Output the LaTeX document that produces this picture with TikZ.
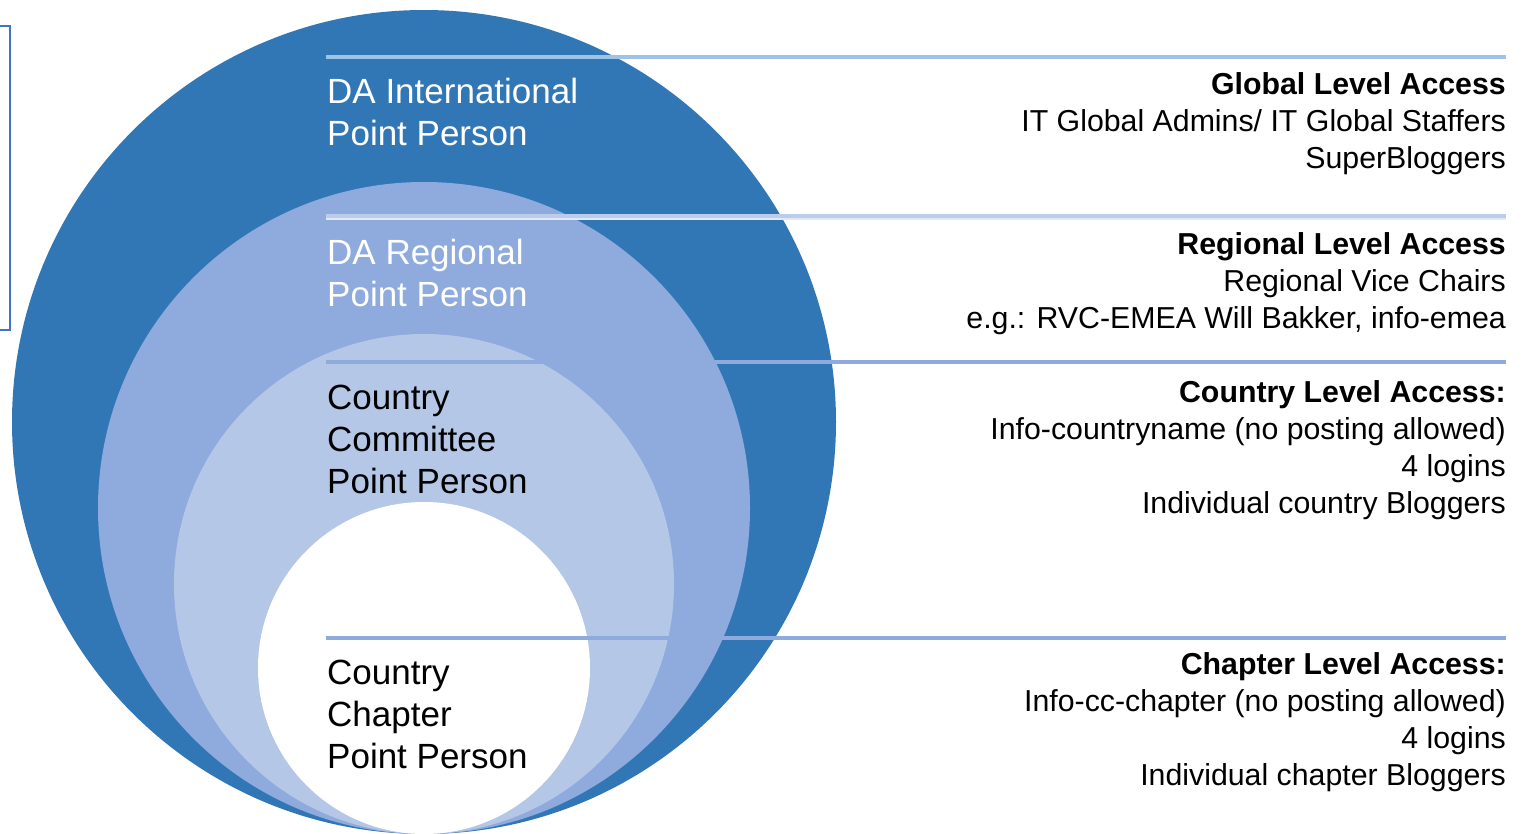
\documentclass[tikz,border=0pt]{standalone}
\usepackage{fontspec}
\setmainfont{Liberation Sans}
\definecolor{cOuter}{HTML}{3277B5}
\definecolor{cMid}{HTML}{8FAADC}
\definecolor{cInner}{HTML}{B4C7E7}
\definecolor{cLineA}{HTML}{9DC3E6}
\definecolor{cLineB}{HTML}{BCCDEB}
\definecolor{cLineBl}{HTML}{E2E9F6}
\definecolor{cBox}{HTML}{4472C4}
\tikzset{
  ring/.style={draw=none},
  leftlbl/.style={anchor=base west, inner sep=0pt, align=left, font=\fontsize{35}{42}\selectfont},
  rightlbl/.style={anchor=base east, inner sep=0pt, align=right, font=\fontsize{30.3}{37}\selectfont},
  sepline/.style={line width=3.5pt}
}
\begin{document}
\begin{tikzpicture}[x=1pt,y=-1pt]
\useasboundingbox (0,0) rectangle (1524,833);
% left thin box
\draw[cBox, line width=2pt] (-5,26) rectangle (9.5,330);
% rings
\fill[cOuter] (424,422) circle (412);
\fill[cMid] (424,508) circle (326);
\fill[cInner] (424,584) circle (250);
\fill[white] (424,668) circle (166);
% separator lines
\coordinate (l1a) at (326,57); \coordinate (l1b) at (1506,57);
\coordinate (l2a) at (326,217); \coordinate (l2b) at (1506,217);
\coordinate (l3a) at (326,362); \coordinate (l3b) at (1506,362);
\coordinate (l4a) at (326,638); \coordinate (l4b) at (1506,638);
\draw[sepline, cLineA] (l1a) -- (l1b);
\draw[line width=5.5pt, cLineB] (l2a) -- (l2b);
\draw[line width=2pt, cLineBl] ([yshift=-1.5pt]l2a) -- ([yshift=-1.5pt]l2b);
\draw[sepline, cMid] (l3a) -- (l3b);
\draw[sepline, cMid] (l4a) -- (l4b);
% left labels (anchored at baseline of last line)
\node[leftlbl, text=white] (intl) at (327,145) {DA International\\Point Person};
\node[leftlbl, text=white] (reg) at (327,306) {DA Regional\\Point Person};
\node[leftlbl, text=black] (ctry) at (327,493) {Country\\Committee\\Point Person};
\node[leftlbl, text=black] (chap) at (327,768) {Country\\Chapter\\Point Person};
% right labels
\node[rightlbl] (glob) at (1506,168) {\textbf{Global Level Access}\\IT Global Admins/ IT Global Staffers\\SuperBloggers};
\node[rightlbl] (regacc) at (1506,328) {\textbf{Regional Level Access}\\Regional Vice Chairs\\e.g.: RVC-EMEA Will Bakker, info-emea};
\node[rightlbl] (ctryacc) at (1506,513) {\textbf{Country Level Access:}\\Info-countryname (no posting allowed)\\4 logins\\Individual country Bloggers};
\node[rightlbl] (chapacc) at (1506,785) {\textbf{Chapter Level Access:}\\Info-cc-chapter (no posting allowed)\\4 logins\\Individual chapter Bloggers};
\end{tikzpicture}
\end{document}
